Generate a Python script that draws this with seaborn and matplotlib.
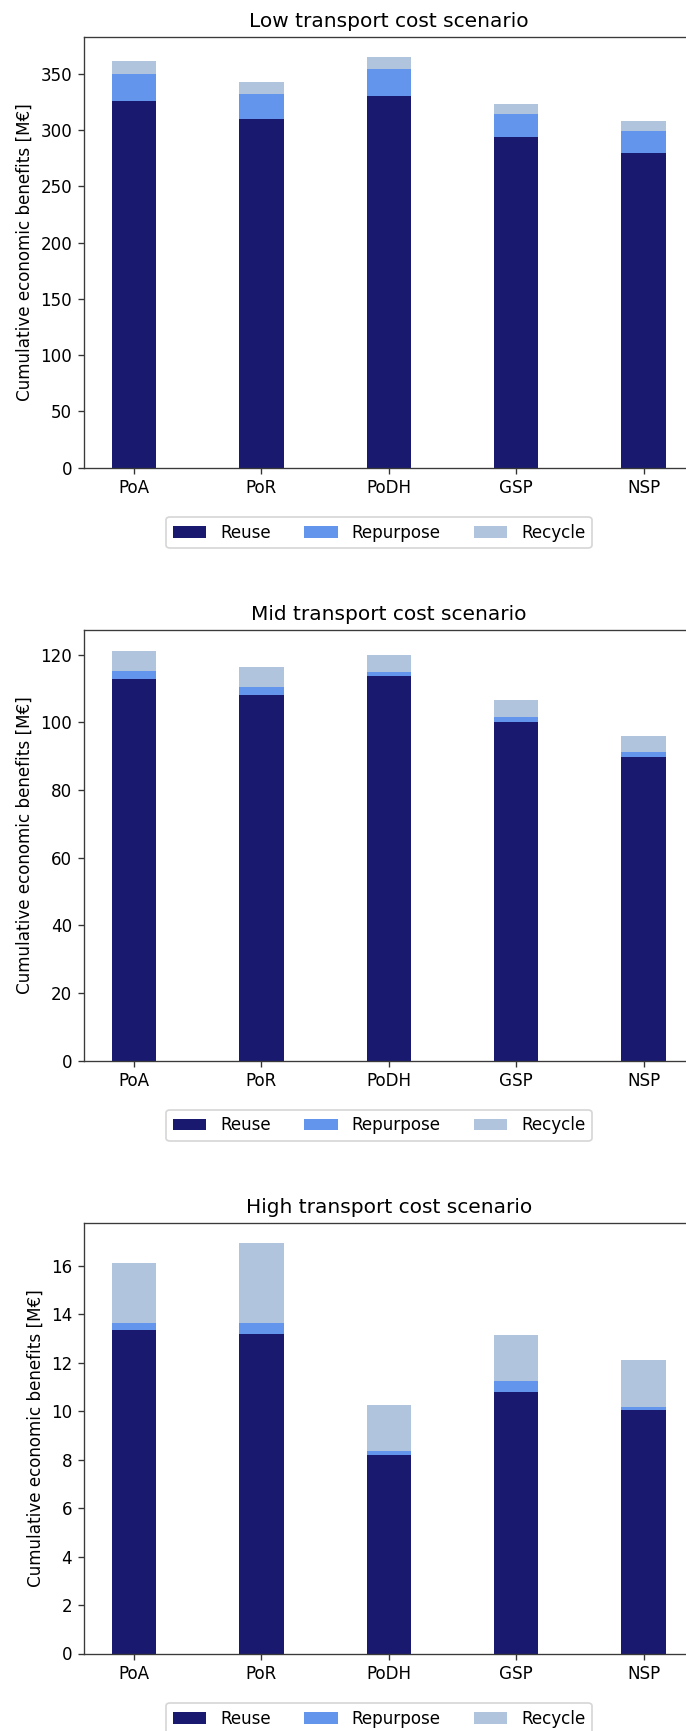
import numpy as np
import pandas as pd
import matplotlib
matplotlib.use("Agg")
import matplotlib.pyplot as plt
from matplotlib.patches import Patch
import seaborn as sns

# Sites and end-of-life routes
sites = ["PoA", "PoR", "PoDH", "GSP", "NSP"]
routes = ["Reuse", "Repurpose", "Recycle"]
route_colors = ["#191970", "#6495ED", "#B0C4DE"]

# Cumulative economic benefits per route [M€]
low_reuse = [326.0, 309.5, 330.2, 294.1, 279.9]
low_repurpose = [24.0, 22.7, 23.9, 20.4, 19.5]
low_recycle = [11.5, 11.0, 10.7, 8.9, 8.9]

mid_reuse = [112.9, 108.2, 113.7, 100.0, 89.8]
mid_repurpose = [2.2, 2.2, 1.1, 1.7, 1.4]
mid_recycle = [6.1, 5.8, 5.0, 4.8, 4.6]

high_reuse = [13.33, 13.19, 8.17, 10.79, 10.04]
high_repurpose = [0.30, 0.44, 0.20, 0.46, 0.14]
high_recycle = [2.48, 3.29, 1.89, 1.88, 1.93]

scenarios = [
    ("Low transport cost scenario", low_reuse, low_repurpose, low_recycle),
    ("Mid transport cost scenario", mid_reuse, mid_repurpose, mid_recycle),
    ("High transport cost scenario", high_reuse, high_repurpose, high_recycle),
]

W, H = 686, 1731
DPI = 121
plt.rcParams["font.family"] = ["DejaVu Sans"]
fig = plt.figure(figsize=(W / DPI, H / DPI), dpi=DPI)
fig.patch.set_facecolor("white")

# panel placement in pixels: (top, bottom) of each axes, plus legend centre y
ax_left, ax_width = 84, 609.6
panels_px = [(36.7, 467.7, 532.5), (630.0, 1060.7, 1125.3), (1222.7, 1653.5, 1718.5)]
legend_cx = 379

bar_w = 0.35
for (title, reuse, repurpose, recycle), (top, bot, leg_y) in zip(scenarios, panels_px):
    ax = fig.add_axes([ax_left / W, 1 - bot / H, ax_width / W, (bot - top) / H])
    df = pd.DataFrame({"site": sites, "Reuse": reuse,
                       "Repurpose": repurpose, "Recycle": recycle})
    # stacked bars drawn as overlapping cumulative heights
    df["lvl3"] = df["Reuse"] + df["Repurpose"] + df["Recycle"]
    df["lvl2"] = df["Reuse"] + df["Repurpose"]
    df["lvl1"] = df["Reuse"]
    for col, c in zip(["lvl3", "lvl2", "lvl1"], route_colors[::-1]):
        sns.barplot(data=df, x="site", y=col, color=c, width=bar_w,
                    saturation=1, errorbar=None, linewidth=0, ax=ax)
    ax.set_xlim(-0.3925, 4.3925)
    ymax = df["lvl3"].max() * 1.05
    ax.set_ylim(0, ymax)
    ax.set_xlabel("")
    ax.set_ylabel("Cumulative economic benefits [M€]", fontsize=10)
    ax.set_title(title, fontsize=12)
    ax.tick_params(labelsize=10, color="#333333", length=3.5, width=0.8)
    for s in ax.spines.values():
        s.set_color("#3a3a3a")
        s.set_linewidth(0.8)

    handles = [Patch(facecolor=c, edgecolor="none") for c in route_colors]
    fig.legend(handles, routes, ncol=3, loc="center",
               bbox_to_anchor=(legend_cx / W, 1 - leg_y / H),
               fontsize=10, frameon=True)

fig.savefig("out.png", dpi=DPI, facecolor="white")
